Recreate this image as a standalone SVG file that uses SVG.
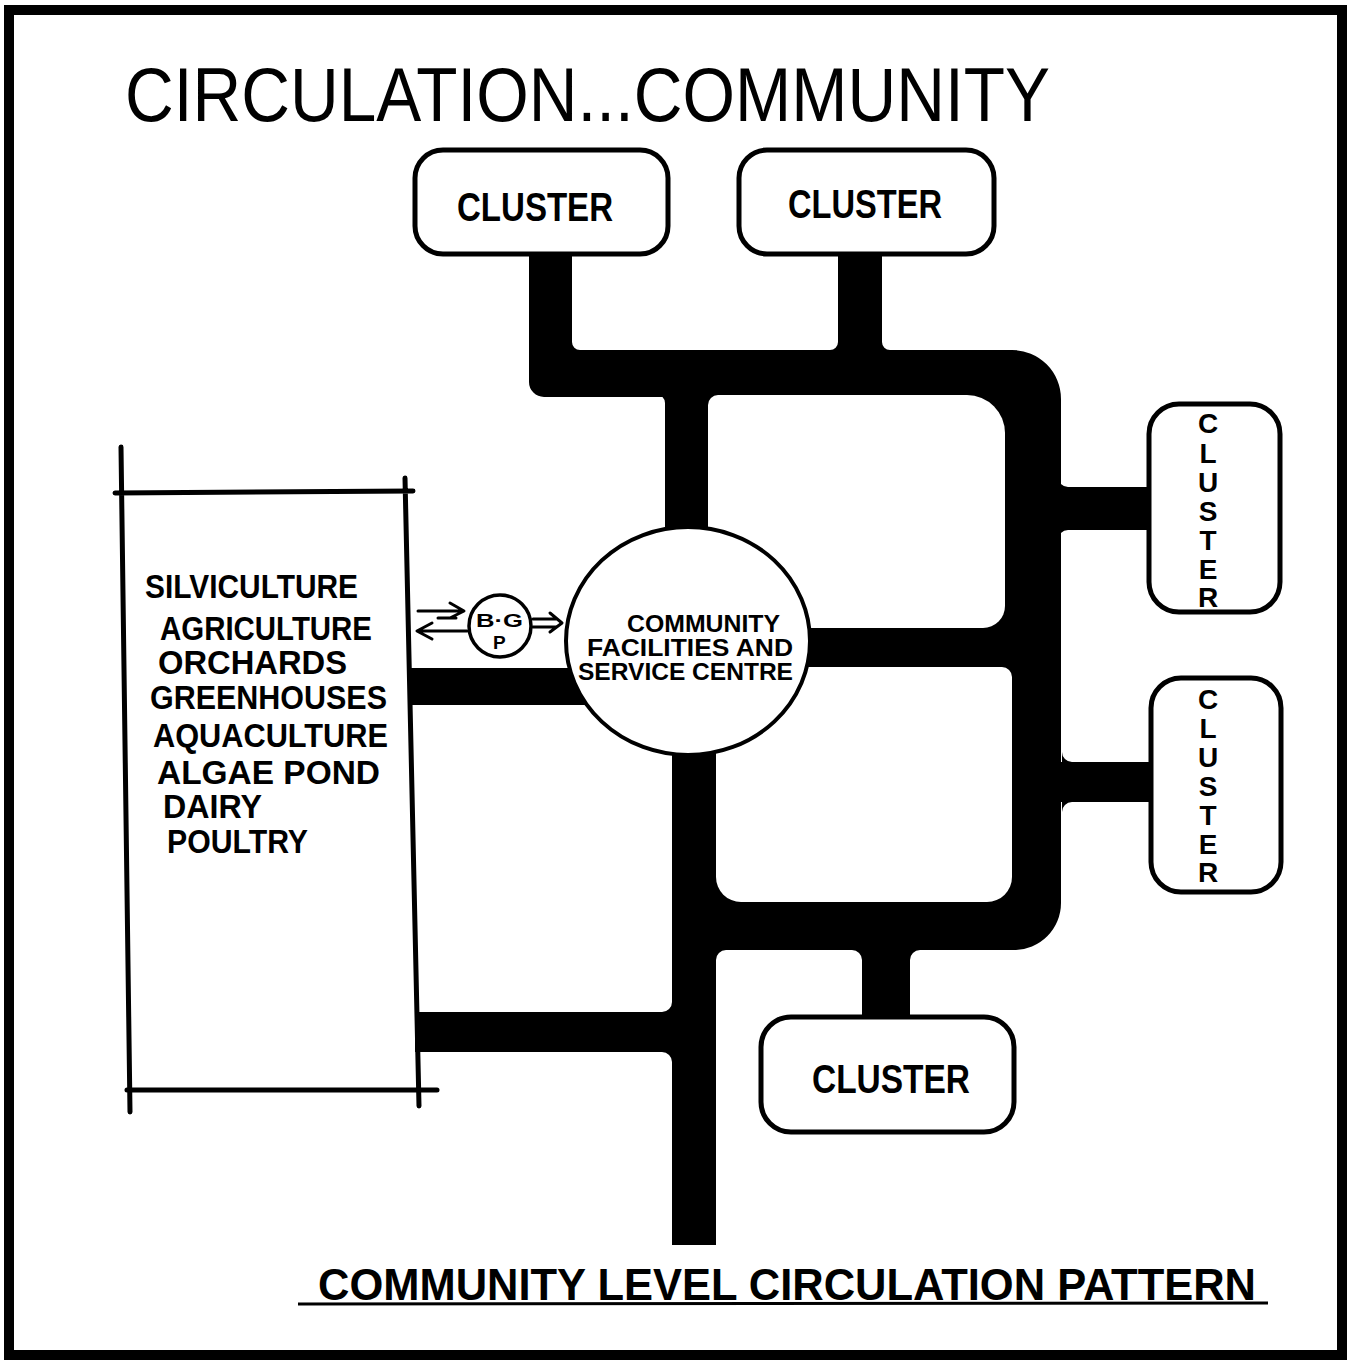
<svg xmlns="http://www.w3.org/2000/svg" width="1352" height="1369" viewBox="0 0 1352 1369">
  <style>
    .road { fill: #000; stroke: none; }
    .gap { fill: #fff; stroke: none; }
    .box { fill: #fff; stroke: #000; stroke-width: 5; }
    .line { fill: none; stroke: #000; stroke-width: 5; stroke-linecap: round; }
    .thin { fill: none; stroke: #000; stroke-width: 3; stroke-linecap: round; stroke-linejoin: round; }
    .lbl { font-family: "Liberation Sans", Arial, sans-serif; font-weight: bold; fill: #000; }
    .title { font-family: "Liberation Sans", Arial, sans-serif; font-size: 76px; fill: #000; }
    .cl { font-size: 40px; }
    .vcl { font-size: 28px; text-anchor: middle; }
    .farm { font-size: 33px; }
    .ctr { font-size: 23px; }
  </style>

  <rect x="0" y="0" width="1352" height="1369" fill="#fff"/>

  <!-- sheet border -->
  <rect x="9" y="10" width="1333" height="1345" fill="none" stroke="#000" stroke-width="10"/>

  <!-- title -->
  <text class="title" x="125" y="121" textLength="925" lengthAdjust="spacingAndGlyphs">CIRCULATION...COMMUNITY</text>

  <!-- road network -->
  <g id="connectors">
    <!-- loop round the centre -->
    <path class="road" d="M 665 350 H 1012 A 49 49 0 0 1 1061 399 V 903 A 47 47 0 0 1 1014 950 H 672 V 700 H 665 Z"/>
    <path class="gap" d="M 718 395 H 967 A 38 38 0 0 1 1005 433 V 606 A 22 22 0 0 1 983 628 H 708 V 405 A 10 10 0 0 1 718 395 Z"/>
    <path class="gap" d="M 716 667 H 1002 A 10 10 0 0 1 1012 677 V 877 A 25 25 0 0 1 987 902 H 741 A 25 25 0 0 1 716 877 Z"/>
    <!-- top road towards the first cluster -->
    <path class="road" d="M 529 250 V 382 A 15 15 0 0 0 544 397 H 670 V 350 H 572 V 250 Z"/>
    <rect class="road" x="838" y="250" width="44" height="105"/>
    <!-- branches to the side clusters -->
    <rect class="road" x="1055" y="487" width="97" height="43"/>
    <rect class="road" x="1055" y="762" width="99" height="40"/>
    <!-- branch to the lower cluster -->
    <rect class="road" x="862" y="945" width="48" height="76"/>
    <!-- main spine -->
    <rect class="road" x="672" y="940" width="44" height="305"/>
    <!-- roads to the farm zone -->
    <rect class="road" x="410" y="668" width="200" height="37"/>
    <rect class="road" x="415" y="1012" width="260" height="40"/>
    <!-- junction fillets -->
    <path class="road" d="M 572 350 L 580 350 A 8 8 0 0 1 572 342 Z"/>
    <path class="road" d="M 838 350 L 830 350 A 8 8 0 0 0 838 342 Z"/>
    <path class="road" d="M 882 350 L 890 350 A 8 8 0 0 1 882 342 Z"/>
    <path class="road" d="M 665 395 L 657 395 A 8 8 0 0 1 665 403 Z"/>
    <path class="road" d="M 1058 487 L 1058 477 A 10 10 0 0 0 1068 487 Z"/>
    <path class="road" d="M 1058 530 L 1058 540 A 10 10 0 0 1 1068 530 Z"/>
    <path class="road" d="M 1062 762 L 1062 752 A 10 10 0 0 0 1072 762 Z"/>
    <path class="road" d="M 1062 802 L 1062 812 A 10 10 0 0 1 1072 802 Z"/>
    <path class="road" d="M 862 950 L 852 950 A 10 10 0 0 1 862 960 Z"/>
    <path class="road" d="M 910 950 L 920 950 A 10 10 0 0 0 910 960 Z"/>
    <path class="road" d="M 716 950 L 726 950 A 10 10 0 0 0 716 960 Z"/>
    <path class="road" d="M 672 1012 L 662 1012 A 10 10 0 0 0 672 1002 Z"/>
    <path class="road" d="M 672 1052 L 662 1052 A 10 10 0 0 1 672 1062 Z"/>
    <!-- flows between the farm zone, the gas plant and the centre -->
    <path class="thin" d="M 418 611 H 462 M 450 603 L 464 611 L 450 618 M 438 618 H 456"/>
    <path class="thin" d="M 467 631 H 418 M 432 623 L 417 631 L 432 639"/>
    <path class="thin" d="M 533 619 H 556 M 533 627 H 556 M 550 613 L 562 623 L 550 632"/>
  </g>

  <!-- farm zone -->
  <g id="farm">
    <path class="line" d="M 121 447 L 130 1112 M 115 493 L 413 491 M 405 478 L 419 1106 M 127 1090 L 437 1090"/>
    <text class="lbl farm" x="145" y="598" textLength="213" lengthAdjust="spacingAndGlyphs">SILVICULTURE</text>
    <text class="lbl farm" x="160" y="640" textLength="212" lengthAdjust="spacingAndGlyphs">AGRICULTURE</text>
    <text class="lbl farm" x="158" y="674" textLength="189" lengthAdjust="spacingAndGlyphs">ORCHARDS</text>
    <text class="lbl farm" x="150" y="709" textLength="237" lengthAdjust="spacingAndGlyphs">GREENHOUSES</text>
    <text class="lbl farm" x="153" y="747" textLength="235" lengthAdjust="spacingAndGlyphs">AQUACULTURE</text>
    <text class="lbl farm" x="157" y="784" textLength="223" lengthAdjust="spacingAndGlyphs">ALGAE POND</text>
    <text class="lbl farm" x="163" y="818" textLength="99" lengthAdjust="spacingAndGlyphs">DAIRY</text>
    <text class="lbl farm" x="167" y="853" textLength="141" lengthAdjust="spacingAndGlyphs">POULTRY</text>
  </g>

  <!-- biogas plant -->
  <g id="bgp">
    <circle cx="500" cy="626" r="31" fill="#fff" stroke="#000" stroke-width="3.5"/>
    <text class="lbl" x="476" y="627" font-size="19" textLength="47" lengthAdjust="spacingAndGlyphs">B·G</text>
    <text class="lbl" x="493" y="649" font-size="19">P</text>
  </g>

  <!-- community centre -->
  <g id="centre">
    <ellipse cx="688" cy="641" rx="122" ry="114" fill="#fff" stroke="#000" stroke-width="4"/>
    <text class="lbl ctr" x="627" y="632" textLength="153" lengthAdjust="spacingAndGlyphs">COMMUNITY</text>
    <text class="lbl ctr" x="587" y="656" textLength="206" lengthAdjust="spacingAndGlyphs">FACILITIES AND</text>
    <text class="lbl ctr" x="578" y="680" textLength="215" lengthAdjust="spacingAndGlyphs">SERVICE CENTRE</text>
  </g>

  <!-- clusters -->
  <g id="cluster-top-left">
    <rect class="box" x="415" y="150" width="253" height="104" rx="28"/>
    <text class="lbl cl" x="457" y="221" textLength="156" lengthAdjust="spacingAndGlyphs">CLUSTER</text>
  </g>
  <g id="cluster-top-right">
    <rect class="box" x="739" y="150" width="255" height="104" rx="28"/>
    <text class="lbl cl" x="788" y="218" textLength="154" lengthAdjust="spacingAndGlyphs">CLUSTER</text>
  </g>
  <g id="cluster-east-upper">
    <rect class="box" x="1149" y="404" width="131" height="208" rx="30"/>
    <text class="lbl vcl" x="1208" y="433">C<tspan x="1208" y="463">L</tspan><tspan x="1208" y="492">U</tspan><tspan x="1208" y="521">S</tspan><tspan x="1208" y="550">T</tspan><tspan x="1208" y="579">E</tspan><tspan x="1208" y="607">R</tspan></text>
  </g>
  <g id="cluster-east-lower">
    <rect class="box" x="1151" y="678" width="130" height="214" rx="30"/>
    <text class="lbl vcl" x="1208" y="709">C<tspan x="1208" y="738">L</tspan><tspan x="1208" y="767">U</tspan><tspan x="1208" y="796">S</tspan><tspan x="1208" y="825">T</tspan><tspan x="1208" y="854">E</tspan><tspan x="1208" y="882">R</tspan></text>
  </g>
  <g id="cluster-south">
    <rect class="box" x="761" y="1017" width="253" height="115" rx="30"/>
    <text class="lbl cl" x="812" y="1093" textLength="158" lengthAdjust="spacingAndGlyphs">CLUSTER</text>
  </g>

  <!-- caption -->
  <text class="lbl" x="318" y="1300" font-size="44" textLength="938" lengthAdjust="spacingAndGlyphs">COMMUNITY LEVEL CIRCULATION PATTERN</text>
  <path d="M 298 1304 L 1268 1303" stroke="#000" stroke-width="3" fill="none"/>
</svg>
